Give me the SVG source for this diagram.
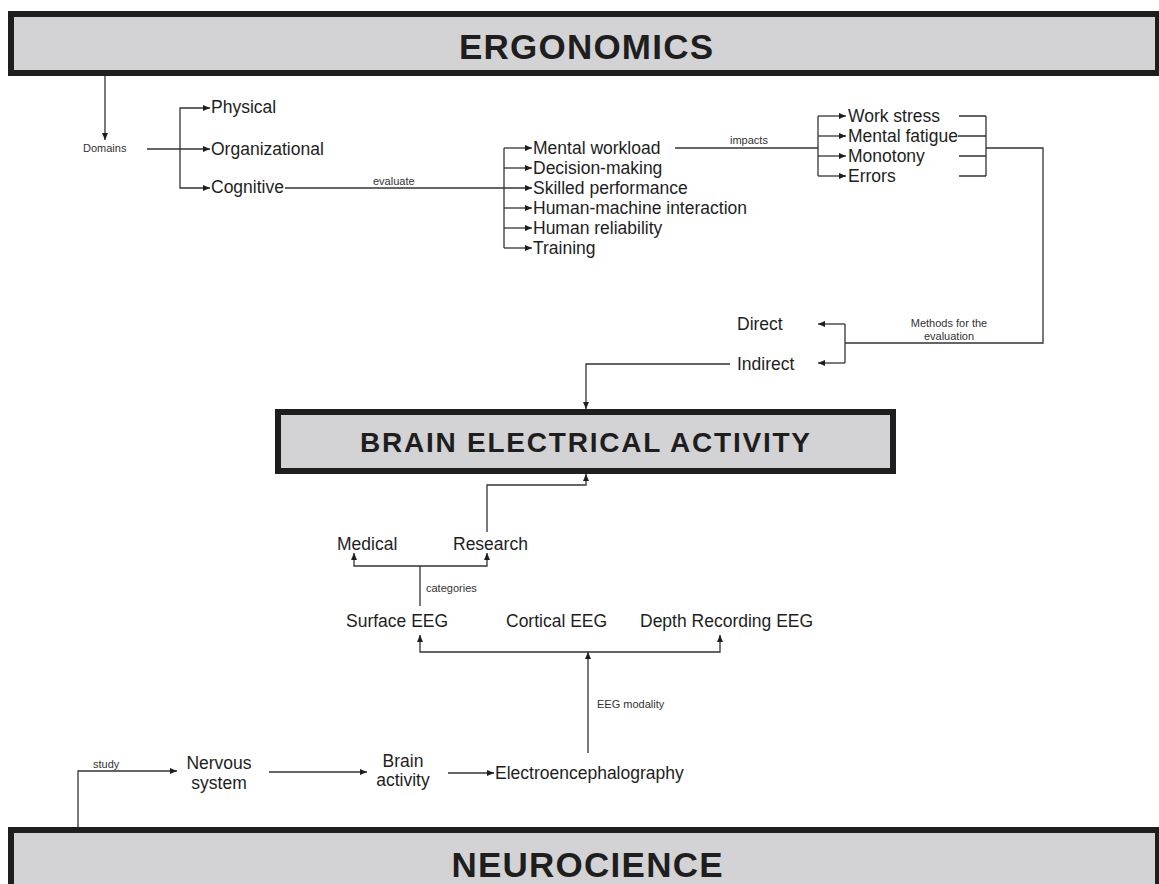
<svg xmlns="http://www.w3.org/2000/svg" width="1159" height="884" viewBox="0 0 1159 884">
<style>
.hdr{fill:#d3d3d5;stroke:#1e1e1e;stroke-width:6}
.ht{font-family:"Liberation Sans",Arial,sans-serif;font-weight:bold;fill:#1e1e1e;text-anchor:middle}
.t{font-family:"Liberation Sans",Arial,sans-serif;font-size:17.5px;fill:#1e1e1e}
.c{text-anchor:middle}
.s{font-family:"Liberation Sans",Arial,sans-serif;font-size:11px;fill:#333}
.ln{fill:none;stroke:#333;stroke-width:1.3}
.ar{marker-end:url(#ah)}
</style>
<defs>
<marker id="ah" viewBox="0 0 7 6" refX="7" refY="3" markerWidth="7" markerHeight="6" markerUnits="userSpaceOnUse" orient="auto">
<path d="M0,0 L7,3 L0,6 z" fill="#1e1e1e"/>
</marker>
</defs>
<rect width="1159" height="884" fill="#ffffff"/>

<g id="ergonomics">
<rect class="hdr" x="11" y="14" width="1147" height="59"/>
<text class="ht" x="586" y="59" font-size="35" textLength="254" lengthAdjust="spacing">ERGONOMICS</text>
</g>
<g id="brain-electrical-activity">
<rect class="hdr" x="278" y="412" width="615" height="59"/>
<text class="ht" x="585" y="452" font-size="28" textLength="450" lengthAdjust="spacing">BRAIN ELECTRICAL ACTIVITY</text>
</g>
<g id="neurocience">
<rect class="hdr" x="11" y="830" width="1147" height="100"/>
<text class="ht" x="587" y="877" font-size="35" textLength="271" lengthAdjust="spacing">NEUROCIENCE</text>
</g>

<g id="connectors">
<path class="ln ar" d="M105,76 V140"/>
<path class="ln ar" d="M147,149 H210"/>
<path class="ln ar" d="M180,149 V108 H210"/>
<path class="ln ar" d="M180,149 V188 H210"/>
<path class="ln ar" d="M285,188 H532"/>
<path class="ln" d="M504,148 V248"/>
<path class="ln ar" d="M504,148 H532"/>
<path class="ln ar" d="M504,168 H532"/>
<path class="ln ar" d="M504,208 H532"/>
<path class="ln ar" d="M504,228 H532"/>
<path class="ln ar" d="M504,248 H532"/>
<path class="ln" d="M675,148 H818"/>
<path class="ln" d="M818,116 V176"/>
<path class="ln ar" d="M818,116 H846"/>
<path class="ln ar" d="M818,136 H846"/>
<path class="ln ar" d="M818,156 H846"/>
<path class="ln ar" d="M818,176 H846"/>
<path class="ln" d="M959,116 H986 M958,136 H986 M959,156 H986 M959,176 H986 M986,116 V176"/>
<path class="ln" d="M986,148 H1043 V343 H845"/>
<path class="ln" d="M845,324 V363"/>
<path class="ln ar" d="M845,324 H818"/>
<path class="ln ar" d="M845,363 H818"/>
<path class="ln ar" d="M730,364 H586 V409"/>
<path class="ln ar" d="M487,532 V485 H586 V474"/>
<path class="ln" d="M420,606 V566"/>
<path class="ln ar" d="M420,566 H354 V553"/>
<path class="ln ar" d="M420,566 H487 V553"/>
<path class="ln ar" d="M588,753 V652"/>
<path class="ln ar" d="M588,652 H420 V635"/>
<path class="ln ar" d="M588,652 H720 V635"/>
<path class="ln ar" d="M78,827 V771 H177"/>
<path class="ln ar" d="M269,772 H367"/>
<path class="ln ar" d="M448,773 H494"/>
<text class="s" x="373" y="185">evaluate</text>
<text class="s" x="730" y="144">impacts</text>
<text class="s c" x="949" y="327">Methods for the</text>
<text class="s c" x="949" y="340">evaluation</text>
<text class="s" x="426" y="592">categories</text>
<text class="s" x="597" y="708">EEG modality</text>
<text class="s" x="93" y="768">study</text>
</g>

<g id="domains"><text class="s" x="83" y="152" font-size="11.5">Domains</text></g>
<g id="physical"><text class="t" x="211" y="113">Physical</text></g>
<g id="organizational"><text class="t" x="211" y="155">Organizational</text></g>
<g id="cognitive"><text class="t" x="211" y="193">Cognitive</text></g>
<g id="mental-workload"><text class="t" x="533" y="154">Mental workload</text></g>
<g id="decision-making"><text class="t" x="533" y="174">Decision-making</text></g>
<g id="skilled-performance"><text class="t" x="533" y="194">Skilled performance</text></g>
<g id="human-machine-interaction"><text class="t" x="533" y="214">Human-machine interaction</text></g>
<g id="human-reliability"><text class="t" x="533" y="234">Human reliability</text></g>
<g id="training"><text class="t" x="533" y="254">Training</text></g>
<g id="work-stress"><text class="t" x="848" y="122">Work stress</text></g>
<g id="mental-fatigue"><text class="t" x="848" y="142">Mental fatigue</text></g>
<g id="monotony"><text class="t" x="848" y="162">Monotony</text></g>
<g id="errors"><text class="t" x="848" y="182">Errors</text></g>
<g id="direct"><text class="t" x="737" y="330">Direct</text></g>
<g id="indirect"><text class="t" x="737" y="370">Indirect</text></g>
<g id="medical"><text class="t" x="337" y="550">Medical</text></g>
<g id="research"><text class="t" x="453" y="550">Research</text></g>
<g id="surface-eeg"><text class="t" x="346" y="627">Surface EEG</text></g>
<g id="cortical-eeg"><text class="t" x="506" y="627">Cortical EEG</text></g>
<g id="depth-recording-eeg"><text class="t" x="640" y="627">Depth Recording EEG</text></g>
<g id="nervous-system"><text class="t c" x="219" y="769">Nervous</text><text class="t c" x="219" y="789">system</text></g>
<g id="brain-activity"><text class="t c" x="403" y="767">Brain</text><text class="t c" x="403" y="786">activity</text></g>
<g id="electroencephalography"><text class="t" x="495" y="779">Electroencephalography</text></g>
</svg>
